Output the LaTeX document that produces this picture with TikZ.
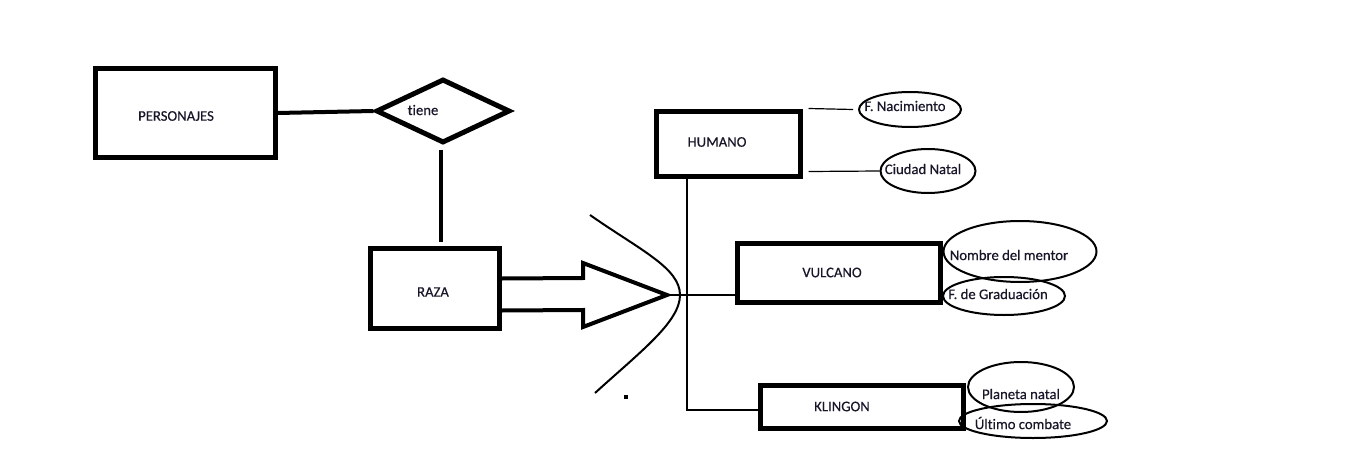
\documentclass[tikz,border=0pt]{standalone}
\usepackage{fontspec}
\setmainfont{Carlito}[Ligatures={NoCommon}, FakeBold=0.3]
\usetikzlibrary{shapes.geometric}
\definecolor{txt}{RGB}{24,22,40}
\tikzset{
  lbl/.style={font=\fontsize{14.7}{17}\selectfont, text=txt, inner sep=0pt},
  ent/.style={draw, rectangle, line width=5pt, inner sep=0pt},
  rel/.style={draw, diamond, line width=5pt, inner sep=0pt},
  attr/.style={draw, ellipse, line width=2pt, inner sep=0pt},
  thick link/.style={line width=4pt},
  thin link/.style={line width=1.2pt},
  mid link/.style={line width=2.6pt},
}
\begin{document}
\begin{tikzpicture}[x=1pt,y=-1pt]
\useasboundingbox[fill=white] (0,0) rectangle (1360,460);

% entities
\node[ent, minimum width=180pt, minimum height=88pt,
  label={[lbl, xshift=-9pt, yshift=-3pt]center:PERSONAJES}] (personajes) at (185,113) {};
\node[rel, minimum width=134pt, minimum height=64pt,
  label={[lbl, xshift=-20pt, yshift=1pt]center:tiene}] (tiene) at (443,111) {};
\node[ent, minimum width=129pt, minimum height=80pt,
  label={[lbl, xshift=-2pt, yshift=-3.5pt]center:RAZA}] (raza) at (435,288.5) {};
\node[ent, minimum width=144pt, minimum height=65pt,
  label={[lbl, xshift=-11pt, yshift=1.5pt]center:HUMANO}] (humano) at (728,143.5) {};
\node[ent, minimum width=203pt, minimum height=59pt,
  label={[lbl, xshift=-6.5pt]center:VULCANO}] (vulcano) at (838.5,272.5) {};
\node[ent, minimum width=203pt, minimum height=43pt,
  label={[lbl, xshift=-19.5pt]center:KLINGON}] (klingon) at (861.5,406.5) {};

% attributes
\node[attr, minimum width=102pt, minimum height=35pt,
  label={[lbl, xshift=-5pt, yshift=3.5pt]center:F. Nacimiento}] (nac) at (910,109.5) {};
\node[attr, minimum width=95pt, minimum height=44pt,
  label={[lbl, xshift=-5pt, yshift=2pt]center:Ciudad Natal}] (ciudad) at (928,171) {};
\node[attr, minimum width=153pt, minimum height=61pt,
  label={[lbl, xshift=-11pt, yshift=-3.5pt]center:Nombre del mentor}] (mentor) at (1020,251.5) {};
\node[attr, minimum width=122pt, minimum height=38pt,
  label={[lbl, xshift=-6pt, yshift=2pt]center:F. de Graduación}] (grad) at (1004,296) {};
\node[attr, minimum width=106pt, minimum height=50pt,
  label={[lbl, yshift=-7pt]center:Planeta natal}] (planeta) at (1021,387) {};
\node[attr, minimum width=148pt, minimum height=34pt,
  label={[lbl, xshift=-10pt, yshift=-2pt]center:Último combate}] (ultimo) at (1033,421) {};

% connectors
\draw[thick link] (personajes.east) -- (tiene.west);
\draw[thick link, shorten <=4pt, shorten >=4pt] ([xshift=-2pt]tiene.south) -- ([xshift=-2pt]tiene.south |- raza.north);

% big arrow (specialisation)
\coordinate (tip) at (667,295);
\draw[line width=4pt, line join=miter]
  ([yshift=10pt]raza.east) -- (583,278) -- (583,263) -- (tip) -- (583,327) -- (583,310) -- ([yshift=-22pt]raza.east);
% disjointness curve
\draw[line width=2pt] (590,215) .. controls (640,250) and (680,268) .. (680,295)
  .. controls (680,322) and (640,352) .. (595,393);
\fill (624,395) rectangle (628,399);

% hierarchy trunk
\coordinate (trunk) at (687,410);
\draw[mid link] (trunk |- humano.south) -- (trunk) -- (klingon.west |- trunk);
\draw[mid link] (tip) -- (vulcano.west |- tip);

% humano attributes
\draw[thin link] ([xshift=6pt]humano.north east) -- ([xshift=-5pt]nac.west);
\draw[thin link] ([xshift=6pt, yshift=7pt]humano.south east) -- (ciudad.west);
\end{tikzpicture}
\end{document}
